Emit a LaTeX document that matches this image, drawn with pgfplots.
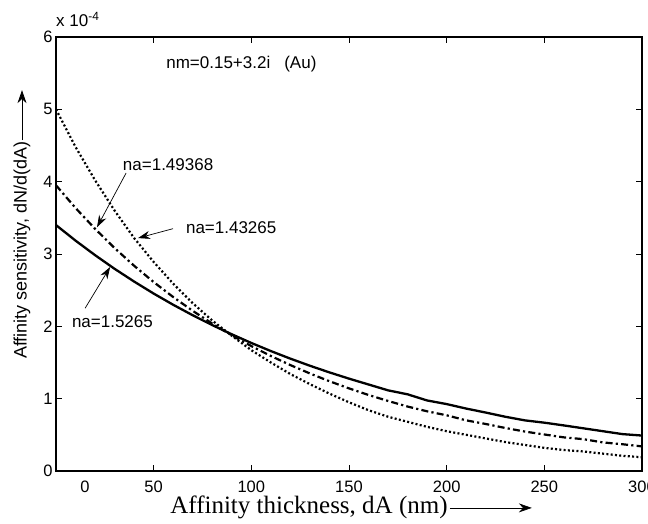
\documentclass[border=0pt]{standalone}
\usepackage{pgfplots}
\pgfplotsset{compat=1.18}
\usepackage{fontspec}
\setmainfont{Liberation Sans}
\newfontfamily\timesfont{Liberation Serif}
\usetikzlibrary{arrows.meta}

\pgfplotstableread{
x y
0 3.40
10 3.185
20 2.984
30 2.795
40 2.619
50 2.453
60 2.298
70 2.153
80 2.017
90 1.890
100 1.770
110 1.658
120 1.553
130 1.455
140 1.363
150 1.277
160 1.196
170 1.115
180 1.060
190 0.975
200 0.925
210 0.863
220 0.808
230 0.750
240 0.700
250 0.668
260 0.630
270 0.590
280 0.550
290 0.510
300 0.490
}\solidtab

\pgfplotstableread{
x y
0 3.95
10 3.636
20 3.348
30 3.082
40 2.837
50 2.612
60 2.405
70 2.214
80 2.038
90 1.876
100 1.727
110 1.590
120 1.464
130 1.348
140 1.241
150 1.142
160 1.051
170 0.968
180 0.891
190 0.825
200 0.770
210 0.700
220 0.650
230 0.595
240 0.545
250 0.505
260 0.465
270 0.440
280 0.395
290 0.370
300 0.340
}\dashtab

\pgfplotstableread{
x y
0 5.00
10 4.48
20 4.02
30 3.60
40 3.22
50 2.89
60 2.59
70 2.32
80 2.08
90 1.87
100 1.67
110 1.50
120 1.34
130 1.20
140 1.07
150 0.95
160 0.84
170 0.75
180 0.68
190 0.61
200 0.55
210 0.50
220 0.45
230 0.40
240 0.36
250 0.32
260 0.29
270 0.27
280 0.24
290 0.21
300 0.19
}\dottab

\begin{document}
\begin{tikzpicture}
\begin{axis}[
  scale only axis, width=586pt, height=434pt,
  xmin=0, xmax=300, ymin=0, ymax=6,
  xtick={0,50,...,300},
  xticklabels={\hspace*{58pt}0,50,100,150,200,250,300},
  ytick={0,1,...,6},
  tick align=inside, major tick length=6pt,
  tick style={line width=0.8pt, black},
  axis line style={line width=1.3pt},
  ticklabel style={font=\fontsize{16.5}{18}\selectfont},
  /pgf/number format/assume math mode=true,
  xticklabel style={yshift=-6pt},
  clip=false,
]
\addplot[black, line width=2.3pt] table {\solidtab};
\addplot[black, line width=2.2pt, dash pattern=on 7pt off 3.2pt on 2.2pt off 3.2pt] table {\dashtab};
\addplot[black, line width=2.2pt, dash pattern=on 2pt off 2.3pt] table {\dottab};

\coordinate (ll) at (rel axis cs:0,0);
\coordinate (ur) at (rel axis cs:1,1);

\node[anchor=west, font=\fontsize{17}{19}\selectfont, inner sep=0pt] at (axis cs:56.4,5.62) {nm=0.15+3.2i\hspace{14pt}(Au)};
\node[font=\fontsize{17}{19}\selectfont, inner sep=0pt] at (axis cs:57.4,4.23) {na=1.49368};
\node[font=\fontsize{17}{19}\selectfont, inner sep=0pt] at (axis cs:89.7,3.37) {na=1.43265};
\node[font=\fontsize{17}{19}\selectfont, inner sep=0pt] at (axis cs:28.9,2.06) {na=1.5265};

\draw[line width=0.7pt, -{Stealth[length=12pt,width=8pt]}] (axis cs:35.9,4.12) -- (axis cs:21.0,3.37);
\draw[line width=0.7pt, -{Stealth[length=12pt,width=8pt]}] (axis cs:59.9,3.35) -- (axis cs:42.0,3.22);
\draw[line width=0.7pt, -{Stealth[length=12pt,width=8pt]}] (axis cs:14.9,2.25) -- (axis cs:27.7,2.82);

\node[anchor=base west, font=\fontsize{17}{19}\selectfont, inner sep=0pt] at ([yshift=10pt]rel axis cs:0,1) {x 10\textsuperscript{-4}};

\node[anchor=base, font=\fontsize{25}{27}\selectfont\timesfont, inner sep=0pt] (xlab) at ([yshift=-43pt]rel axis cs:0.4317,0) {Affinity thickness, dA (nm)};
\draw[line width=0.7pt, -{Stealth[length=13pt,width=9pt]}] ([xshift=2pt]xlab.east) -- ++(82pt,0);

\node[rotate=90, font=\fontsize{18}{20}\selectfont, inner sep=0pt] (ylab) at ([xshift=-34pt]rel axis cs:0,0.509) {Affinity sensitivity, dN/d(dA)};
\draw[line width=0.7pt, -{Stealth[length=13pt,width=9pt]}] ([yshift=1pt]ylab.east) -- ++(0,50pt);
\end{axis}
\pgfresetboundingbox
\path[use as bounding box] ([xshift=-56pt,yshift=-53pt]ll) rectangle ([xshift=6pt,yshift=37pt]ur);
\end{tikzpicture}
\end{document}
